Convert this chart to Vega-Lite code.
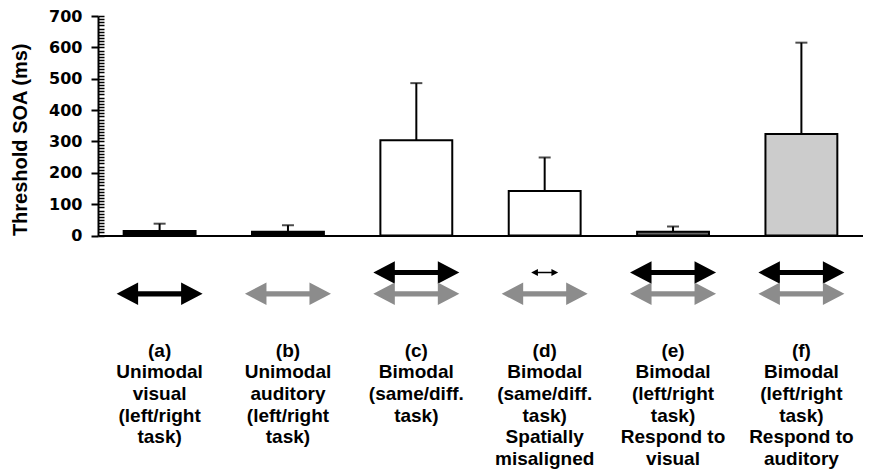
{
  "$schema": "https://vega.github.io/schema/vega-lite/v6.json",
  "autosize": {"type": "pad"},
  "padding": {"left": 10, "top": 8, "right": 0, "bottom": 0},
  "config": {"view": {"stroke": null}, "font": "Liberation Sans", "concat": {"spacing": 16.5}},
  "datasets": {
    "bars": [
      {"cond": "a", "mean": 15, "upper": 38, "label": "(a)\nUnimodal\nvisual\n(left/right\ntask)"},
      {"cond": "b", "mean": 12, "upper": 33, "label": "(b)\nUnimodal\nauditory\n(left/right\ntask)"},
      {"cond": "c", "mean": 304, "upper": 486, "label": "(c)\nBimodal\n(same/diff.\ntask)"},
      {"cond": "d", "mean": 142, "upper": 249, "label": "(d)\nBimodal\n(same/diff.\ntask)\nSpatially\nmisaligned"},
      {"cond": "e", "mean": 12, "upper": 29, "label": "(e)\nBimodal\n(left/right\ntask)\nRespond to\nvisual"},
      {"cond": "f", "mean": 324, "upper": 615, "label": "(f)\nBimodal\n(left/right\ntask)\nRespond to\nauditory"}
    ],
    "arrows": [
      {"cond": "a", "row": "bottom", "modality": "visual", "span": "full"},
      {"cond": "b", "row": "bottom", "modality": "auditory", "span": "full"},
      {"cond": "c", "row": "top", "modality": "visual", "span": "full"},
      {"cond": "c", "row": "bottom", "modality": "auditory", "span": "full"},
      {"cond": "d", "row": "top", "modality": "visual", "span": "narrow"},
      {"cond": "d", "row": "bottom", "modality": "auditory", "span": "full"},
      {"cond": "e", "row": "top", "modality": "visual", "span": "full"},
      {"cond": "e", "row": "bottom", "modality": "auditory", "span": "full"},
      {"cond": "f", "row": "top", "modality": "visual", "span": "full"},
      {"cond": "f", "row": "bottom", "modality": "auditory", "span": "full"}
    ]
  },
  "vconcat": [
    {
      "width": 765,
      "height": 219.6,
      "data": {"name": "bars"},
      "encoding": {
        "x": {
          "field": "cond", "type": "nominal",
          "scale": {"paddingInner": 0.44, "paddingOuter": 0.2},
          "axis": {"labels": false, "ticks": false, "title": null, "domainColor": "black", "domainWidth": 2}
        }
      },
      "layer": [
        {
          "mark": {"type": "bar", "stroke": "black", "strokeWidth": 2},
          "encoding": {
            "y": {
              "field": "mean", "type": "quantitative",
              "scale": {"domain": [0, 700], "nice": false},
              "axis": {
                "orient": "left",
                "title": "Threshold SOA (ms)",
                "titleFont": "Liberation Sans", "titleFontSize": 20, "titleFontWeight": "bold", "titleColor": "black", "titlePadding": 18,
                "titleAnchor": "start",
                "labelFont": "DejaVu Sans", "labelFontSize": 16, "labelFontWeight": "bold", "labelColor": "black", "labelPadding": 9,
                "values": [0, 100, 200, 300, 400, 500, 600, 700],
                "tickSize": 7, "tickWidth": 2, "tickColor": "black",
                "domainColor": "black", "domainWidth": 2, "grid": false
              }
            },
            "fill": {
              "field": "cond", "type": "nominal",
              "scale": {"domain": ["a", "b", "c", "d", "e", "f"], "range": ["#000000", "#000000", "#ffffff", "#ffffff", "#666666", "#cccccc"]},
              "legend": null
            }
          }
        },
        {
          "mark": {"type": "rule", "strokeWidth": 2, "color": "black"},
          "encoding": {
            "y": {
              "field": "mean", "type": "quantitative",
              "axis": {
                "orient": "left", "title": null, "labels": false, "domain": false, "grid": false,
                "values": [0, 10, 20, 30, 40, 50, 60, 70, 80, 90, 100, 110, 120, 130, 140, 150, 160, 170, 180, 190, 200, 210, 220, 230, 240, 250, 260, 270, 280, 290, 300, 310, 320, 330, 340, 350, 360, 370, 380, 390, 400, 410, 420, 430, 440, 450, 460, 470, 480, 490, 500, 510, 520, 530, 540, 550, 560, 570, 580, 590, 600, 610, 620, 630, 640, 650, 660, 670, 680, 690, 700],
                "tickSize": -6, "tickWidth": 1.5, "tickColor": "black"
              }
            },
            "y2": {"field": "upper"}
          }
        },
        {
          "mark": {"type": "tick", "color": "black", "thickness": 2, "size": 12},
          "encoding": {
            "y": {"field": "upper", "type": "quantitative", "axis": null}
          }
        }
      ],
      "resolve": {"axis": {"y": "independent"}}
    },
    {
      "width": 765,
      "height": 21.3,
      "data": {"name": "arrows"},
      "mark": {
        "type": "point", "filled": true, "opacity": 1, "strokeWidth": 0,
        "shape": "M-1,0L-0.5,-0.26L-0.5,-0.06L0.5,-0.06L0.5,-0.26L1,0L0.5,0.26L0.5,0.06L-0.5,0.06L-0.5,0.26Z"
      },
      "encoding": {
        "x": {"field": "cond", "type": "nominal", "scale": {"paddingInner": 0.44, "paddingOuter": 0.2}, "axis": null},
        "y": {"field": "row", "type": "nominal", "scale": {"domain": ["top", "bottom"], "padding": 0}, "axis": null},
        "size": {"field": "span", "type": "ordinal", "scale": {"domain": ["full", "narrow"], "range": [7396, 729]}, "legend": null},
        "color": {"field": "modality", "type": "nominal", "scale": {"domain": ["visual", "auditory"], "range": ["#000000", "#8c8c8c"]}, "legend": null}
      }
    },
    {
      "width": 765,
      "height": 39,
      "data": {"name": "bars"},
      "mark": {
        "type": "text", "lineBreak": "\n", "lineHeight": 21.7, "baseline": "top", "align": "center",
        "fontSize": 19, "fontWeight": "bold", "font": "Liberation Sans", "color": "black"
      },
      "encoding": {
        "x": {"field": "cond", "type": "nominal", "scale": {"paddingInner": 0.44, "paddingOuter": 0.2}, "axis": null},
        "text": {"field": "label"}
      }
    }
  ],
  "resolve": {"scale": {"x": "shared", "y": "independent"}, "axis": {"x": "independent"}}
}
